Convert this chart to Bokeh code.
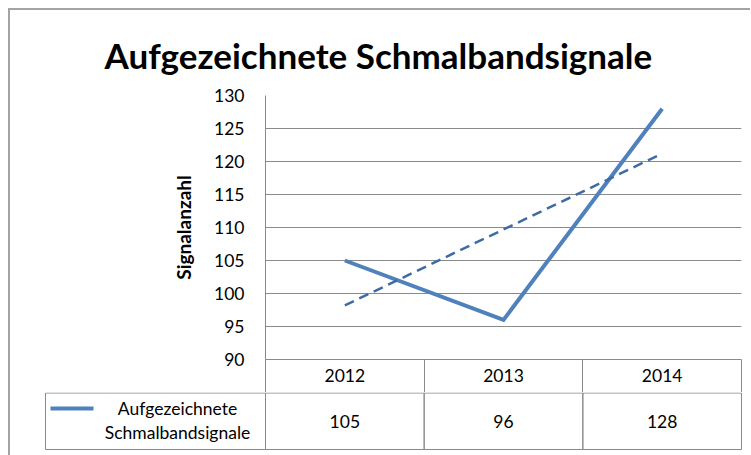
from bokeh.plotting import figure
from bokeh.layouts import column
from bokeh.models import Range1d, FixedTicker
from bokeh.core.properties import value
from bokeh.embed import file_html
from bokeh.resources import INLINE

# ---- data ----
years = ["2012", "2013", "2014"]
signals = [105, 96, 128]
trend_values = [98.2, 109.7, 121.2]   # linear trendline
y_ticks = [90, 95, 100, 105, 110, 115, 120, 125, 130]
series_name = "Aufgezeichnete Schmalbandsignale"
chart_title = "Aufgezeichnete Schmalbandsignale"
y_title = "Signalanzahl"

# ---- style ----
FONT = "Lato"
GRAY = "#8a8a8a"
BLUE = "#4F81BD"
TREND = "#3E6BA6"
FS = "17.5px"

W = 740
FRAME_L = 255
FRAME_W = 476
FRAME_R = W - FRAME_L - FRAME_W
TOP = 85
FRAME_H = 264
HEAD = 33
ROW_H = 63
ROW_LINE = 57

xs = [i + 0.5 for i in range(len(years))]

p1 = figure(width=W, height=TOP + FRAME_H + HEAD,
            x_range=Range1d(0, len(years)), y_range=Range1d(y_ticks[0], y_ticks[-1]),
            output_backend="svg", toolbar_location=None,
            min_border_left=FRAME_L, min_border_right=FRAME_R,
            min_border_top=TOP, min_border_bottom=HEAD)
p1.frame_align = False
p1.outline_line_color = None
p1.background_fill_color = "white"
p1.border_fill_color = "white"

p1.title.text = chart_title
p1.title.align = "left"
p1.title.offset = -161
p1.title.standoff = 39
p1.title.text_font = FONT
p1.title.text_font_size = "35px"
p1.title.text_font_style = "bold"
p1.title.text_color = "black"

xa = p1.xaxis[0]
xa.ticker = FixedTicker(ticks=xs, minor_ticks=list(range(len(years) + 1)))
xa.major_label_overrides = {x: y for x, y in zip(xs, years)}
xa.major_tick_out = 0
xa.major_tick_in = 0
xa.minor_tick_out = HEAD
xa.minor_tick_in = 0
xa.minor_tick_line_color = GRAY
xa.axis_line_color = GRAY
xa.major_label_standoff = -24
xa.major_label_text_font = FONT
xa.major_label_text_font_size = FS
xa.major_label_text_color = "black"

ya = p1.yaxis[0]
ya.ticker = FixedTicker(ticks=y_ticks)
ya.major_tick_out = 0
ya.major_tick_in = 0
ya.minor_tick_line_color = None
ya.axis_line_color = GRAY
ya.major_label_standoff = 21
ya.major_label_text_font = FONT
ya.major_label_text_font_size = FS
ya.major_label_text_color = "black"
ya.axis_label = y_title
ya.axis_label_text_font = FONT
ya.axis_label_text_font_size = "19px"
ya.axis_label_text_font_style = "bold"
ya.axis_label_text_color = "black"
ya.axis_label_standoff = 16

p1.xgrid.visible = False
p1.ygrid.ticker = FixedTicker(ticks=y_ticks)
p1.ygrid.grid_line_color = GRAY

p1.line(xs, signals, line_color=BLUE, line_width=4, line_join="miter")
p1.line(xs, trend_values, line_color=TREND, line_width=2.5, line_dash="10 6")

# ---- data table (value row), pixel coordinates ----
p2 = figure(width=W, height=ROW_H, x_range=Range1d(0, W), y_range=Range1d(ROW_H, 0),
            output_backend="svg", toolbar_location=None,
            min_border_left=0, min_border_right=0, min_border_top=0, min_border_bottom=0)
p2.frame_align = False
p2.axis.visible = False
p2.grid.visible = False
p2.outline_line_color = None
p2.background_fill_color = "white"
p2.border_fill_color = "white"

cell_w = FRAME_W / len(years)
LEG_L = 35
lefts = [LEG_L] + [FRAME_L + i * cell_w for i in range(len(years))]
rights = [FRAME_L] + [FRAME_L + (i + 1) * cell_w for i in range(len(years))]
p2.quad(left=lefts, right=rights, top=[0.5] * len(lefts), bottom=[ROW_LINE] * len(lefts),
        fill_color=None, line_color=GRAY, line_width=1)

p2.text(x=[FRAME_L + (i + 0.5) * cell_w for i in range(len(years))], y=[29] * len(years),
        text=[str(v) for v in signals], text_align="center", text_baseline="middle",
        text_font=value(FONT), text_font_size=FS, text_color="black")

p2.segment(x0=[LEG_L + 5], y0=[16], x1=[LEG_L + 48], y1=[16], line_color=BLUE, line_width=4)
p2.text(x=[167], y=[28], text=[series_name.replace(" ", "\n")], text_align="center",
        text_baseline="middle", text_line_height=1.13,
        text_font=value(FONT), text_font_size=FS, text_color="black")

layout = column(p1, p2, spacing=0, margin=(8, 0, 0, 8),
                styles={"border-left": "2px solid #a3a3a3", "border-top": "2px solid #a3a3a3"})

open("out.html", "w").write(file_html(layout, INLINE))
